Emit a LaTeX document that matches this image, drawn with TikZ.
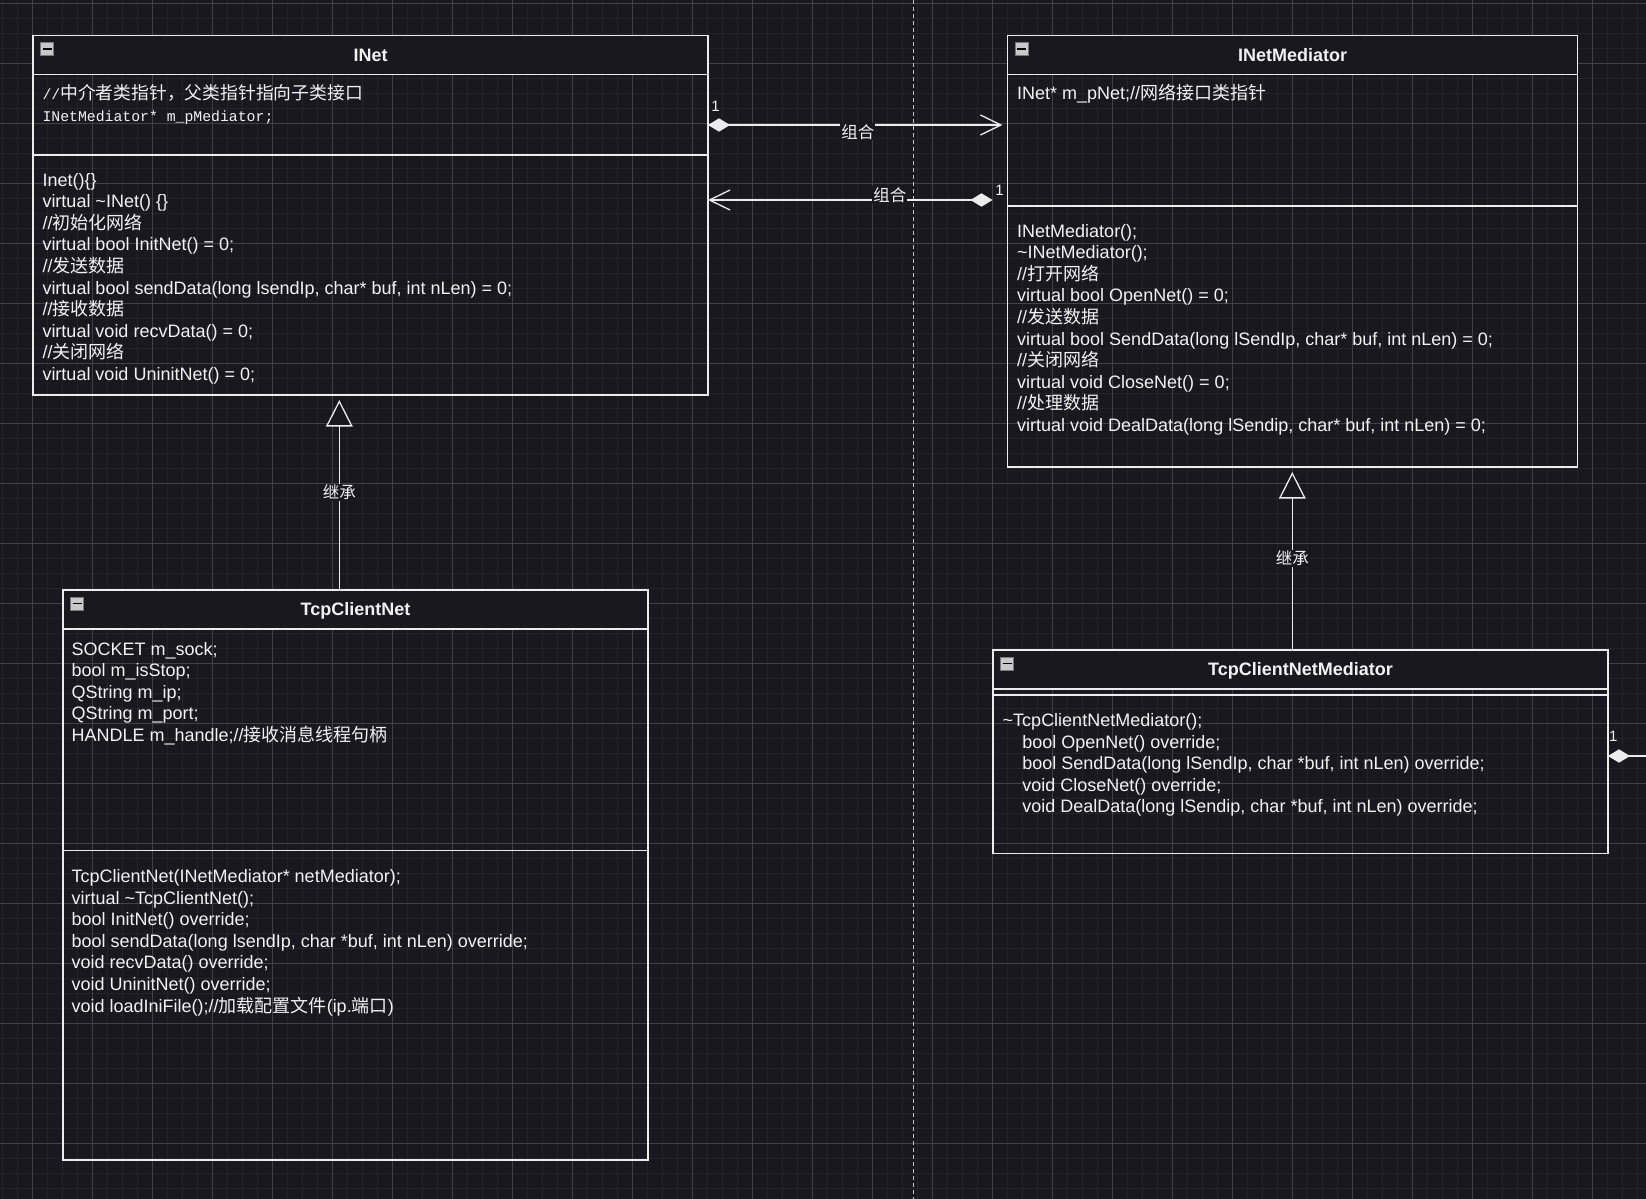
\documentclass[tikz,border=0pt]{standalone}
\usepackage{fontspec}
\setmainfont{Liberation Sans}
\setmonofont{Liberation Mono}
\newfontfamily\cjk{Noto Sans CJK SC}
\usetikzlibrary{arrows.meta,positioning}
\definecolor{BgDark}{RGB}{25,24,31}
\definecolor{GridMinor}{RGB}{36,35,42}
\definecolor{GridMajor}{RGB}{66,65,72}
\definecolor{LineWhite}{RGB}{236,236,236}
\definecolor{TextWhite}{RGB}{242,242,242}
\definecolor{DashGray}{RGB}{196,196,196}
\definecolor{IconFill}{RGB}{200,200,200}
\definecolor{IconEdge}{RGB}{120,120,120}
\newcommand{\umlfont}{\fontsize{18}{21.6}\selectfont}
\newcommand{\zh}[1]{{\cjk #1}}

\begin{document}
\begin{tikzpicture}[x=1pt, y=-1pt,
    titlebar/.style={rectangle, draw=LineWhite, fill=BgDark, line width=1.3pt,
                     minimum height=39pt, inner sep=0pt, outer sep=0pt,
                     text=TextWhite, font=\bfseries\umlfont,
                     text height=13pt, text depth=0.5pt},
    section/.style={rectangle, draw=LineWhite, line width=1.3pt,
                    inner sep=0pt, outer sep=0pt},
    member/.style={anchor=base west, inner sep=0pt, text=TextWhite, font=\umlfont},
    minusicon/.style={rectangle, minimum size=13pt, inner sep=0pt,
                      draw=IconEdge, fill=IconFill, line width=0.8pt,
                      path picture={\draw[black, line width=1.6pt]
                        ([xshift=-4.5pt]path picture bounding box.center) --
                        ([xshift=4.5pt]path picture bounding box.center);}},
    comp/.style={draw=LineWhite, line width=1.3pt,
                 {Diamond[length=22pt, width=13.4pt]}-{Straight Barb[length=20.6pt, width=20pt]}},
    inherit/.style={draw=LineWhite, line width=1.3pt, shorten >=5pt,
                    -{Triangle[length=26.5pt, width=26.6pt, fill=BgDark]}},
    lbl/.style={fill=BgDark, inner sep=1pt, text=TextWhite,
                font=\cjk\fontsize{16.5}{18}\selectfont},
    mult/.style={inner sep=0pt, text=TextWhite, font=\fontsize{15}{17}\selectfont}
  ]
  % canvas and grid
  \fill[BgDark] (0,0) rectangle (1646,1199);
  \useasboundingbox (0,0) rectangle (1646,1199);
  \foreach \gx in {2.3,17.3,...,1646} \draw[GridMinor, line width=1pt] (\gx,0) -- (\gx,1199);
  \foreach \gy in {3.3,18.3,...,1199} \draw[GridMinor, line width=1pt] (0,\gy) -- (1646,\gy);
  \foreach \gx in {32.3,92.3,...,1646} \draw[GridMajor, line width=1pt] (\gx,0) -- (\gx,1199);
  \foreach \gy in {3.3,63.3,...,1199} \draw[GridMajor, line width=1pt] (0,\gy) -- (1646,\gy);

  % page split
  \coordinate (dtop) at (913.3,0);
  \coordinate (dbot) at (913.3,1199);
  \draw[DashGray, line width=1.4pt, dash pattern=on 4pt off 3pt] (dtop) -- (dbot);

  % INet
  \node[titlebar, minimum width=675pt, anchor=north west] (inet-title) at (33,35.5) {INet};
  \node[section, minimum width=675pt, minimum height=80.5pt, below=0pt of inet-title] (inet-attr) {};
  \node[section, minimum width=675pt, minimum height=240pt, below=0pt of inet-attr] (inet-ops) {};
  \node[minusicon] (inet-icon) at ([xshift=14pt, yshift=-13.5pt]inet-title.north west) {};
  \node[member, font=\ttfamily\fontsize{14.8}{18}\selectfont] (inet-attr-0) at (42.3,99.5)
    {//\zh{\fontsize{17.8}{18}\selectfont 中介者类指针，父类指针指向子类接口}};
  \node[member, font=\ttfamily\fontsize{14.8}{18}\selectfont] (inet-attr-1) at (42.3,121)
    {INetMediator* m\_pMediator;};
  \foreach \ln [count=\k from 0] in {
      {Inet()\{\}},
      {virtual \textasciitilde INet() \{\}},
      {//\zh{初始化网络}},
      {virtual bool InitNet() = 0;},
      {//\zh{发送数据}},
      {virtual bool sendData(long lsendIp, char* buf, int nLen) = 0;},
      {//\zh{接收数据}},
      {virtual void recvData() = 0;},
      {//\zh{关闭网络}},
      {virtual void UninitNet() = 0;}}
    \node[member] (inet-op-\k) at (42.3, 186+21.6*\k) {\ln};

  % INetMediator
  \node[titlebar, minimum width=570pt, anchor=north west] (inetmed-title) at (1007.5,35.5) {INetMediator};
  \node[section, minimum width=570pt, minimum height=131.5pt, below=0pt of inetmed-title] (inetmed-attr) {};
  \node[section, minimum width=570pt, minimum height=261pt, below=0pt of inetmed-attr] (inetmed-ops) {};
  \node[minusicon] (inetmed-icon) at ([xshift=14pt, yshift=-13.5pt]inetmed-title.north west) {};
  \node[member] (inetmed-attr-0) at (1017,99.5) {INet* m\_pNet;//\zh{网络接口类指针}};
  \foreach \ln [count=\k from 0] in {
      {INetMediator();},
      {\textasciitilde INetMediator();},
      {//\zh{打开网络}},
      {virtual bool OpenNet() = 0;},
      {//\zh{发送数据}},
      {virtual bool SendData(long lSendIp, char* buf, int nLen) = 0;},
      {//\zh{关闭网络}},
      {virtual void CloseNet() = 0;},
      {//\zh{处理数据}},
      {virtual void DealData(long lSendip, char* buf, int nLen) = 0;}}
    \node[member] (inetmed-op-\k) at (1017, 237+21.6*\k) {\ln};

  % TcpClientNet
  \node[titlebar, minimum width=585pt, anchor=north west] (tcpnet-title) at (63,590) {TcpClientNet};
  \node[section, minimum width=585pt, minimum height=221.5pt, below=0pt of tcpnet-title] (tcpnet-attr) {};
  \node[section, minimum width=585pt, minimum height=309.5pt, below=0pt of tcpnet-attr] (tcpnet-ops) {};
  \node[minusicon] (tcpnet-icon) at ([xshift=14pt, yshift=-13.5pt]tcpnet-title.north west) {};
  \foreach \ln [count=\k from 0] in {
      {SOCKET m\_sock;},
      {bool m\_isStop;},
      {QString m\_ip;},
      {QString m\_port;},
      {HANDLE m\_handle;//\zh{接收消息线程句柄}}}
    \node[member] (tcpnet-attr-\k) at (71.5, 655+21.5*\k) {\ln};
  \foreach \ln [count=\k from 0] in {
      {TcpClientNet(INetMediator* netMediator);},
      {virtual \textasciitilde TcpClientNet();},
      {bool InitNet() override;},
      {bool sendData(long lsendIp, char *buf, int nLen) override;},
      {void recvData() override;},
      {void UninitNet() override;},
      {void loadIniFile();//\zh{加载配置文件}(ip.\zh{端口})}}
    \node[member] (tcpnet-op-\k) at (71.5, 882.5+21.6*\k) {\ln};

  % TcpClientNetMediator
  \node[titlebar, minimum width=615pt, anchor=north west] (tcpmed-title) at (993,650) {TcpClientNetMediator};
  \node[section, minimum width=615pt, minimum height=6pt, below=0pt of tcpmed-title] (tcpmed-attr) {};
  \node[section, minimum width=615pt, minimum height=158.5pt, below=0pt of tcpmed-attr] (tcpmed-ops) {};
  \node[minusicon] (tcpmed-icon) at ([xshift=14pt, yshift=-13.5pt]tcpmed-title.north west) {};
  \node[member] (tcpmed-op-0) at (1002.5,726.5) {\textasciitilde TcpClientNetMediator();};
  \foreach \ln [count=\k from 1] in {
      {bool OpenNet() override;},
      {bool SendData(long lSendIp, char *buf, int nLen) override;},
      {void CloseNet() override;},
      {void DealData(long lSendip, char *buf, int nLen) override;}}
    \node[member] (tcpmed-op-\k) at (1022.2, 726.5+21.5*\k) {\ln};

  % composition both ways
  \draw[comp, shorten >=5pt] ([yshift=-10.25pt]inet-attr.east) -- ([yshift=15.25pt]inetmed-attr.west)
    node[lbl, pos=0.5, yshift=-6.7pt] {组合}
    node[mult, at start, xshift=7.5pt, yshift=18.3pt] {1};
  \draw[comp] ([xshift=-15pt, yshift=-59.75pt]inetmed-attr.west) -- ([yshift=75pt]inet-ops.east)
    node[lbl, pos=0.361, yshift=5pt] {组合}
    node[mult, at start, xshift=7pt, yshift=10pt] {1};

  % inheritance
  \coordinate (inh1) at ([xshift=-16.2pt]tcpnet-title.north);
  \draw[inherit] (inh1) -- (inet-ops.south -| inh1) node[lbl, midway] {继承};
  \coordinate (inh2) at ([xshift=-8.2pt]tcpmed-title.north);
  \draw[inherit] (inh2) -- (inetmed-ops.south -| inh2) node[lbl, midway] {继承};

  % link leaving to the right
  \coordinate (offedge) at (1646,756);
  \draw[draw=LineWhite, line width=1.3pt, {Diamond[length=22pt, width=13.4pt]}-]
    ([yshift=18.25pt]tcpmed-ops.east) -- (offedge)
    node[mult, at start, xshift=5.4pt, yshift=19.5pt] {1};
\end{tikzpicture}
\end{document}
